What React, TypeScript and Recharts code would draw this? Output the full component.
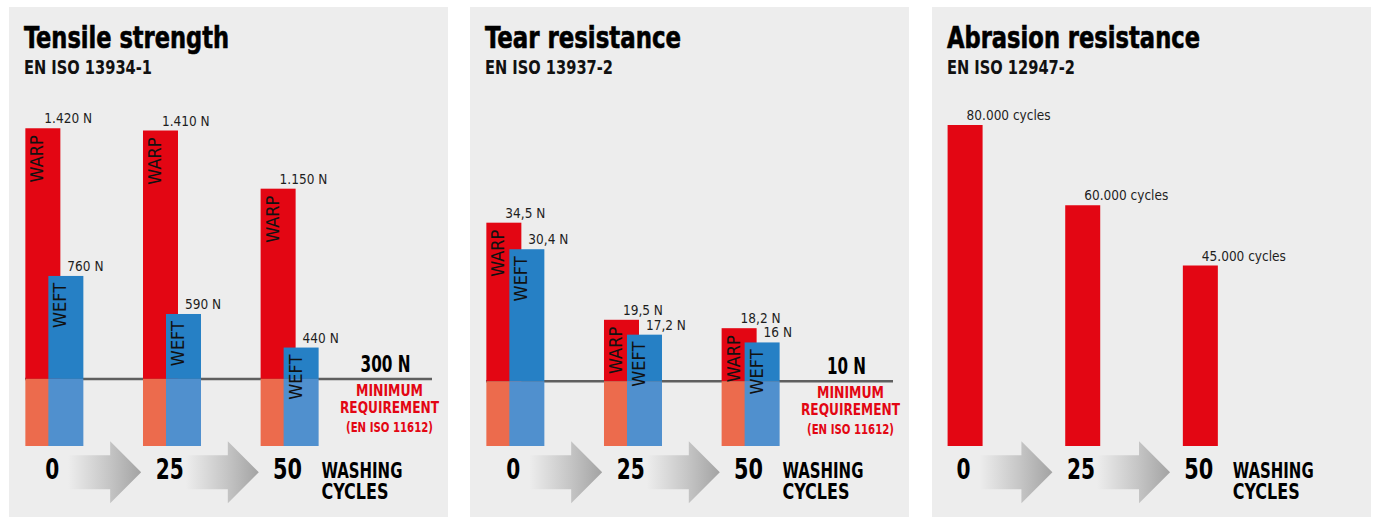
import React from 'react';
import { BarChart, Bar, XAxis, YAxis, ReferenceLine, LabelList, CartesianGrid } from 'recharts';

// ---------- data ----------
const washingCycles = [0, 25, 50];
const tensileWarp = [1420, 1410, 1150];
const tensileWeft = [760, 590, 440];
const tensileMinimum = 300;
const tearWarp = [34.5, 19.5, 18.2];
const tearWeft = [30.4, 17.2, 16];
const tearMinimum = 10;
const abrasionCycles = [80000, 60000, 45000];
const minimumLines = ['MINIMUM', 'REQUIREMENT', '(EN ISO 11612)'];

// ---------- style ----------
const RED = '#E30613';
const BLUE = '#2680C5';
const RED_LIGHT = '#EC6B4D';
const BLUE_LIGHT = '#5090CE';
const BG = '#EDEDED';
const LINE = '#5F5F5F';
const FONT = "'Liberation Sans Narrow', 'DejaVu Sans Condensed', 'Arial Narrow', Roboto, sans-serif";

const PANEL_W = 439;
const PANEL_H = 510;
const AXIS_H = 60;
const MARGIN_BOTTOM = 11;

const fmtThousands = (v: number) => Math.round(v).toString().replace(/\B(?=(\d{3})+(?!\d))/g, '.');
const fmtDecimal = (v: number) => v.toString().replace('.', ',');

const tensileData = washingCycles.map((c, i) => ({ cycle: c, warp: tensileWarp[i], weft: tensileWeft[i] }));
const tearData = washingCycles.map((c, i) => ({ cycle: c, warp: tearWarp[i], weft: tearWeft[i] }));
const abrasionData = washingCycles.map((c, i) => ({ cycle: c, value: abrasionCycles[i] }));

const twoTone = (dark: string, light: string, key: string, threshold?: number) => (props: any) => {
  const { x, y, width, height, payload } = props;
  if (!height || height <= 0) return null;
  const v = payload[key];
  const base = y + height;
  const ty = threshold != null ? base - height * (threshold / v) : base;
  return (
    <g>
      <rect x={x} y={y} width={width} height={ty - y} fill={dark} />
      {threshold != null && <rect x={x} y={ty} width={width} height={base - ty} fill={light} />}
    </g>
  );
};

const valueLabel = (fmt: (v: number) => string, suffix: string) => (p: any) => {
  const x = p.x ?? p.viewBox?.x;
  const y = p.y ?? p.viewBox?.y;
  return (
    <text x={x + 19} y={y - 5} fontFamily={FONT} fontSize={13.5} fill="#1e1e1e">
      {fmt(p.value) + suffix}
    </text>
  );
};

const innerLabel = (label: string) => (p: any) => {
  const x = (p.x ?? p.viewBox?.x) + 18;
  const y = (p.y ?? p.viewBox?.y) + 7;
  return (
    <text x={x} y={y} transform={`rotate(-90 ${x} ${y})`} textAnchor="end" fontFamily={FONT} fontSize={18} fill="#111">
      {label}
    </text>
  );
};

const thresholdLabel = (text: string, textW: number) => (p: any) => {
  const vb = p.viewBox || {};
  const cx = vb.x + vb.width - 42.5;
  const y = vb.y;
  const widths = [67, 99, 87];
  const dys = [24, 17, 19];
  return (
    <text fontFamily={FONT} fontWeight="bold" textAnchor="middle" x={cx} y={y - 7}>
      <tspan x={cx - 4} y={y - 7} fontSize={23} fill="#000" textLength={textW} lengthAdjust="spacingAndGlyphs">{text}</tspan>
      {minimumLines.map((t, i) => (
        <tspan key={t} x={cx} dy={dys[i]} fontSize={i === 2 ? 13.5 : 15} fill={RED}
          textLength={widths[i]} lengthAdjust="spacingAndGlyphs">{t}</tspan>
      ))}
    </text>
  );
};

const numberWidths: Record<number, number> = { 0: 14, 25: 28, 50: 29 };

const makeTick = (gid: string) => (props: any) => {
  const { x, y, payload } = props;
  const v = payload.value as number;
  const idx = washingCycles.indexOf(v);
  const last = idx === washingCycles.length - 1;
  const yc = y + 26.3;
  const x0 = x + 14, xb = x + 56, xt = x + 87;
  return (
    <g>
      {!last && (
        <g>
          <defs>
            <linearGradient id={`${gid}-${idx}`} x1="0" y1="0" x2="1" y2="0">
              <stop offset="0" stopColor="#EDEDED" />
              <stop offset="0.55" stopColor="#C6C6C6" />
              <stop offset="1" stopColor="#A3A3A3" />
            </linearGradient>
          </defs>
          <path
            d={`M${x0},${yc - 17} L${xb},${yc - 17} L${xb},${yc - 31} L${xt},${yc} L${xb},${yc + 31} L${xb},${yc + 17} L${x0},${yc + 17} Z`}
            fill={`url(#${gid}-${idx})`}
          />
        </g>
      )}
      <text x={x - 2} y={y + 33.3} textAnchor="middle" fontFamily={FONT} fontWeight="bold" fontSize={29}
        fill="#000" textLength={numberWidths[v]} lengthAdjust="spacingAndGlyphs">{String(v)}</text>
      {last && (
        <text fontFamily={FONT} fontWeight="bold" fill="#000" fontSize={22} x={x + 32} y={y + 32.3}>
          <tspan x={x + 32} y={y + 32.3} textLength={81} lengthAdjust="spacingAndGlyphs">WASHING</tspan>
          <tspan x={x + 32} y={y + 53.3} textLength={67} lengthAdjust="spacingAndGlyphs">CYCLES</tspan>
        </text>
      )}
    </g>
  );
};

type PanelProps = {
  left: number;
  title: string;
  titleW: number;
  subtitle: string;
  children: React.ReactNode;
};

const Panel = ({ left, title, titleW, subtitle, children }: PanelProps) => (
  <div style={{ position: 'absolute', left, top: 7, width: PANEL_W, height: PANEL_H, background: BG, overflow: 'hidden' }}>
    <div style={{ position: 'absolute', left: 0, top: 0 }}>{children}</div>
    <svg width={PANEL_W} height={80} style={{ position: 'absolute', left: 0, top: 0 }}>
      <text x={15} y={41} fontFamily={FONT} fontWeight="bold" fontSize={30} fill="#000" stroke="#000" strokeWidth={0.6}
        textLength={titleW} lengthAdjust="spacingAndGlyphs">{title}</text>
      <text x={15} y={67} fontFamily={FONT} fontWeight="bold" fontSize={19.5} fill="#111"
        textLength={128} lengthAdjust="spacingAndGlyphs">{subtitle}</text>
    </svg>
  </div>
);

const WarpWeftChart = ({ data, yMax, top, minimum, minText, minW, fmt, gid }: any) => (
  <BarChart width={PANEL_W} height={PANEL_H} data={data} barGap={-12}
    margin={{ top, right: 16, left: 16, bottom: MARGIN_BOTTOM }}>
    <CartesianGrid vertical={false} horizontalValues={[minimum]} stroke={LINE} strokeWidth={2.5} />
    <XAxis dataKey="cycle" type="number" domain={[-6.2, 80.3]} ticks={washingCycles} interval={0}
      axisLine={false} tickLine={false} tickSize={0} tickMargin={0} height={AXIS_H} tick={makeTick(gid)} />
    <YAxis hide domain={[0, yMax]} />
    <ReferenceLine y={minimum} stroke="none" strokeWidth={0} label={thresholdLabel(minText, minW)} />
    <Bar dataKey="warp" barSize={35} fill={RED} shape={twoTone(RED, RED_LIGHT, 'warp', minimum)} isAnimationActive={false}>
      <LabelList dataKey="warp" content={valueLabel(fmt, ' N')} />
      <LabelList dataKey="warp" content={innerLabel('WARP')} />
    </Bar>
    <Bar dataKey="weft" barSize={35} fill={BLUE} shape={twoTone(BLUE, BLUE_LIGHT, 'weft', minimum)} isAnimationActive={false}>
      <LabelList dataKey="weft" content={valueLabel(fmt, ' N')} />
      <LabelList dataKey="weft" content={innerLabel('WEFT')} />
    </Bar>
  </BarChart>
);

export default function App() {
  return (
    <div style={{ position: 'absolute', left: 0, top: 0, width: 1373, height: 518, background: '#fff' }}>
      <Panel left={9} title="Tensile strength" titleW={205} subtitle="EN ISO 13934-1">
        <WarpWeftChart data={tensileData} yMax={1600} top={81} minimum={tensileMinimum} minText="300 N" minW={50}
          fmt={fmtThousands} gid="g1" />
      </Panel>
      <Panel left={470} title="Tear resistance" titleW={196} subtitle="EN ISO 13937-2">
        <WarpWeftChart data={tearData} yMax={55} top={83} minimum={tearMinimum} minText="10 N" minW={39}
          fmt={fmtDecimal} gid="g2" />
      </Panel>
      <Panel left={932} title="Abrasion resistance" titleW={253} subtitle="EN ISO 12947-2">
        <BarChart width={PANEL_W} height={PANEL_H} data={abrasionData}
          margin={{ top: 78, right: 16, left: 16, bottom: MARGIN_BOTTOM }}>
          <XAxis dataKey="cycle" type="number" domain={[-3.7, 82.8]} ticks={washingCycles} interval={0}
            axisLine={false} tickLine={false} tickSize={0} tickMargin={0} height={AXIS_H} tick={makeTick('g3')} />
          <YAxis hide domain={[0, 90000]} />
          <Bar dataKey="value" barSize={35} fill={RED} isAnimationActive={false}>
            <LabelList dataKey="value" content={valueLabel(fmtThousands, ' cycles')} />
          </Bar>
        </BarChart>
      </Panel>
    </div>
  );
}
